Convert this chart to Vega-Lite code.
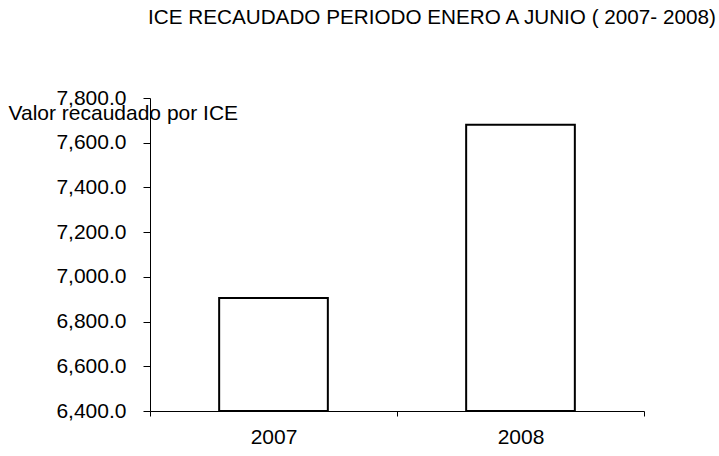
{
  "$schema": "https://vega.github.io/schema/vega-lite/v6.json",
  "width": 494,
  "height": 313,
  "autosize": "none",
  "padding": {"left": 150, "top": 98, "right": 75, "bottom": 45},
  "background": "white",
  "title": {
    "text": "ICE RECAUDADO PERIODO ENERO A JUNIO ( 2007- 2008)",
    "anchor": "start",
    "frame": "group",
    "dx": -2,
    "offset": 38,
    "baseline": "bottom",
    "font": "Liberation Sans",
    "fontSize": 20.7,
    "fontWeight": "normal",
    "color": "black"
  },
  "config": {
    "view": {"stroke": null},
    "font": "Liberation Sans"
  },
  "data": {
    "values": [
      {"year": "2007", "valor": 6905},
      {"year": "2008", "valor": 7680}
    ]
  },
  "mark": {"type": "bar", "fill": "white", "stroke": "black", "strokeWidth": 2, "width": {"band": 0.44}},
  "encoding": {
    "x": {
      "field": "year",
      "type": "nominal",
      "scale": {"paddingInner": 0, "paddingOuter": 0},
      "axis": {
        "title": null,
        "labelAngle": 0,
        "labelFont": "Liberation Sans",
        "labelFontSize": 21,
        "labelColor": "black",
        "labelPadding": 10,
        "domainColor": "black",
        "domainWidth": 1,
        "tickColor": "black",
        "tickSize": 5,
        "tickBand": "extent",
        "grid": false
      }
    },
    "y": {
      "field": "valor",
      "type": "quantitative",
      "scale": {"domain": [6400, 7800], "nice": false, "zero": false},
      "axis": {
        "values": [6400, 6600, 6800, 7000, 7200, 7400, 7600, 7800],
        "format": ",.1f",
        "grid": false,
        "title": "Valor recaudado por ICE",
        "titleAngle": 0,
        "titleX": -142,
        "titleY": 15,
        "titleAlign": "left",
        "titleBaseline": "middle",
        "titleFont": "Liberation Sans",
        "titleFontSize": 21,
        "titleFontWeight": "normal",
        "titleColor": "black",
        "labelFont": "Liberation Sans",
        "labelFontSize": 21,
        "labelColor": "black",
        "labelPadding": 17,
        "domainColor": "black",
        "tickColor": "black",
        "tickSize": 7
      }
    },
    "y2": {"datum": 6400}
  }
}
